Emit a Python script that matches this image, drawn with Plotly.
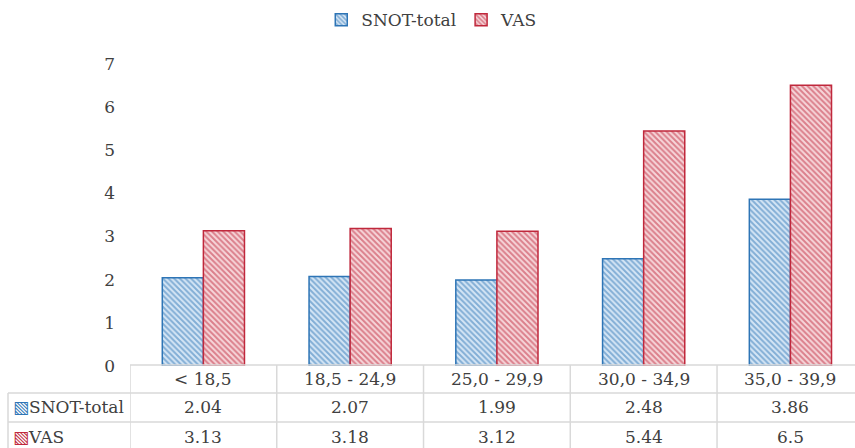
import plotly.graph_objects as go

# BMI groups and mean scores per group
categories = ["< 18,5", "18,5 - 24,9", "25,0 - 29,9", "30,0 - 34,9", "35,0 - 39,9"]
snot_total = [2.04, 2.07, 1.99, 2.48, 3.86]
vas = [3.13, 3.18, 3.12, 5.44, 6.5]
series_names = ["SNOT-total", "VAS"]
y_ticks = [0, 1, 2, 3, 4, 5, 6, 7]

BLUE = "#2E75B6"
BLUE_BG = "#d6e6f5"
RED = "#C0283C"
RED_BG = "#f6d6da"
TEXT = "#404040"
GRID = "#d9d9d9"
FONT = "DejaVu Serif"

W, H = 855, 448
ML, MR, MT, MB = 130, 0, 42, 82
plot_h = H - MT - MB


def py(pix):
    """Convert a pixel row of the page to paper y."""
    return (H - MB - pix) / plot_h


def px(pix):
    """Convert a pixel column of the page to paper x."""
    return (pix - ML) / (W - ML - MR)


fig = go.Figure()
for name, vals, col, bg in [(series_names[0], snot_total, BLUE, BLUE_BG),
                            (series_names[1], vas, RED, RED_BG)]:
    fig.add_trace(go.Bar(
        name=name, x=categories, y=vals,
        marker=dict(color=bg, line=dict(color=col, width=1.5),
                    pattern=dict(shape="\\", fgcolor=col, bgcolor=bg,
                                 size=4, solidity=0.5)),
    ))

line_style = dict(color=GRID, width=1.5)
shapes = []
# header row top edge (also serves as the baseline)
shapes.append(dict(type="line", xref="paper", yref="paper", x0=0, x1=1,
                   y0=py(365), y1=py(365), line=line_style))
# row separators spanning the label column too
for r in (393, 422):
    shapes.append(dict(type="line", xref="paper", yref="paper", x0=px(8), x1=1,
                       y0=py(r), y1=py(r), line=line_style))
# column separators between categories
for i in range(len(categories)):
    shapes.append(dict(type="line", xref="x", yref="paper", x0=i - 0.5, x1=i - 0.5,
                       y0=py(365), y1=py(460), line=line_style))
# left edge of the series-label column
shapes.append(dict(type="line", xref="paper", yref="paper", x0=px(8), x1=px(8),
                   y0=py(393), y1=py(460), line=line_style))

cell_font = dict(size=17, color=TEXT, family=FONT)
annotations = []
for i, c in enumerate(categories):
    annotations.append(dict(x=c, y=py(379), xref="x", yref="paper", text=c,
                            yanchor="middle", showarrow=False, font=cell_font))
    for row, vals in ((407, snot_total), (437, vas)):
        annotations.append(dict(x=c, y=py(row), xref="x", yref="paper",
                                text=f"{vals[i]:g}", yanchor="middle",
                                showarrow=False, font=cell_font))
for row, name, col in ((407, series_names[0], BLUE), (437, series_names[1], RED)):
    annotations.append(dict(
        x=px(11), y=py(row), xref="paper", yref="paper", xanchor="left",
        yanchor="middle",
        text=f"<span style='color:{col};font-family:DejaVu Sans;font-size:17px'>▧</span>{name}",
        showarrow=False, font=cell_font))

fig.update_layout(
    width=W, height=H,
    margin=dict(l=ML, r=MR, t=MT, b=MB),
    paper_bgcolor="white", plot_bgcolor="white",
    barmode="group", bargap=0.44, bargroupgap=0,
    font=dict(family=FONT, size=17, color=TEXT),
    legend=dict(orientation="h", xref="container", yref="container",
                x=0.505, y=0.995, xanchor="center", yanchor="top",
                font=dict(size=17, color=TEXT, family=FONT),
                itemwidth=30, traceorder="normal"),
    xaxis=dict(range=[-0.5, 4.44], showticklabels=False, showgrid=False,
               zeroline=False, showline=False, ticks=""),
    yaxis=dict(range=[0, 7.5], tickvals=y_ticks, showgrid=False, zeroline=False,
               showline=False, ticks="", ticklabelstandoff=14,
               tickfont=dict(size=17, color=TEXT, family=FONT)),
    shapes=shapes, annotations=annotations,
)

fig.write_html("out.html")
